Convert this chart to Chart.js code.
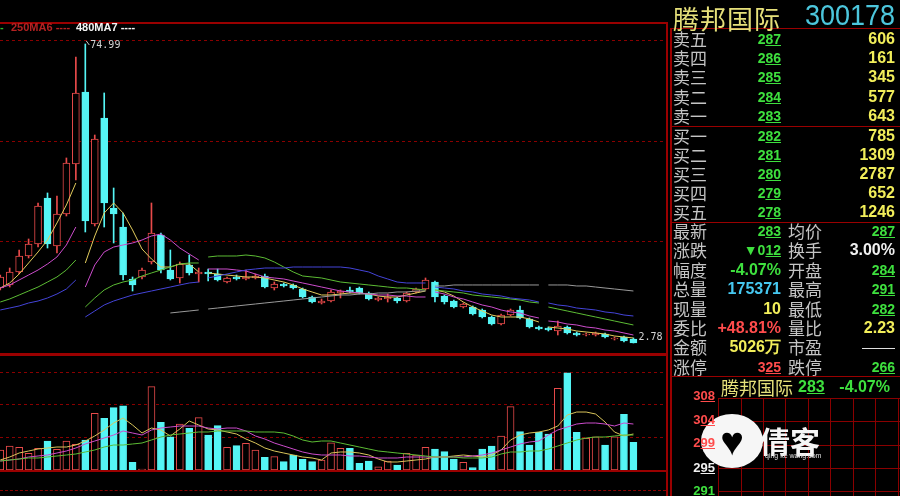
<!DOCTYPE html>
<html lang="zh">
<head>
<meta charset="utf-8">
<title>腾邦国际 300178</title>
<script src="https://cdn.jsdelivr.net/npm/chart.js@4.4.1/dist/chart.umd.min.js"></script>
<style>
  html, body { margin: 0; padding: 0; background: #000; }
  body { position: relative; width: 900px; height: 496px; overflow: hidden; font-family: "Liberation Sans", Arial, sans-serif; }
  canvas { position: absolute; left: 0; }
  #priceCanvas { top: 0; }
  #volCanvas { top: 356px; }
  .line { position: absolute; background: #9a0000; }
  .dash { position: absolute; height: 0; border-top: 1px dashed #8a0000; }
  .t { position: absolute; white-space: nowrap; height: 20px; line-height: 20px; }
  .lab { font-family: "Noto Sans CJK SC", sans-serif; font-size: 17px; color: #c4c4c4; }
  .num { font-weight: bold; font-size: 16px; }
  .prc { font-weight: bold; font-size: 14px; }
  .mini { font-weight: bold; font-size: 13px; }
  u { text-decoration: underline; text-underline-offset: 1px; }
  .g { color: #3ee03e; } .y { color: #f2ee5a; } .w { color: #f0f0f0; } .c { color: #46c8f0; } .red { color: #ff4c4c; }
</style>
</head>
<body>
<canvas id="priceCanvas" width="668" height="356"></canvas>
<canvas id="volCanvas" width="668" height="114"></canvas>

<!-- chart frame -->
<div class="line" style="left:0;top:22px;width:668px;height:2px"></div>
<div class="line" style="left:0;top:353px;width:668px;height:3px"></div>
<div class="line" style="left:666px;top:22px;width:2px;height:474px"></div>
<div class="line" style="left:0;top:470px;width:668px;height:2px"></div>
<div class="dash" style="left:0;top:490px;width:666px"></div>

<!-- legend leftovers -->
<div class="t" style="left:0;top:21px;font:bold 11px 'Liberation Sans';color:#2cb82c">-</div>
<div class="t" style="left:11px;top:21px;font:bold 11px 'Liberation Sans';color:#b42222">250MA6 ----</div>
<div class="t" style="left:76px;top:21px;font:bold 11px 'Liberation Sans';color:#f4f4f4">480MA7 ----</div>

<!-- quote panel frame -->
<div class="line" style="left:670px;top:28px;width:230px;height:1px"></div>
<div class="line" style="left:670px;top:28px;width:2px;height:468px"></div>
<div class="line" style="left:670px;top:126px;width:230px;height:1px"></div>
<div class="line" style="left:670px;top:222px;width:230px;height:1px"></div>
<div class="line" style="left:670px;top:376px;width:230px;height:1px"></div>

<div class="t" style="left:673px;top:-1px;height:28px;line-height:28px;font:26px 'Noto Sans CJK SC';letter-spacing:1px;color:#e6e07a">腾邦国际</div>
<div class="t" style="right:5px;top:-2px;height:30px;line-height:30px;font:30px 'Liberation Sans';color:#4cc6dc;transform:scaleX(0.9);transform-origin:right center">300178</div>

<!-- mini chart grid + watermark -->
<div style="position:absolute;left:718px;top:398px;width:182px;height:98px;background-image:repeating-linear-gradient(to right,#8a0000 0 1px,transparent 1px 22.5px),repeating-linear-gradient(to bottom,#8a0000 0 1px,transparent 1px 23.3px)"></div>
<div style="position:absolute;left:701px;top:414px;width:62px;height:54px;border-radius:50%;background:#f6f6f6;text-align:center;line-height:54px;font-size:40px;color:#000">&#9829;</div>
<div class="t" style="left:760px;top:418px;height:36px;line-height:36px;font:bold 30px 'Noto Sans CJK SC';color:#f6f6f6">倩客</div>
<div class="t" style="left:765px;top:452px;height:10px;line-height:10px;font:7px 'Liberation Sans';color:#e0e0e0">qing ke wang.com</div>

<div id="overlay"></div>

<script>
// candles (price units, 2.78 .. 74.99)
const opens  = [16.06, 16.79, 19.93, 23.79, 26.69, 37.80, 26.21, 33.93, 46.01, 63.40,
                31.52, 57.12, 35.38, 30.79, 18.24, 18.72, 22.34, 28.86, 20.41, 18.48,
                21.62, 19.44, 19.93, 19.44, 17.51, 18.72, 18.24, 18.48, 18.96, 16.06,
                17.03, 16.79, 15.82, 13.89, 12.44, 12.92, 14.86, 15.58, 16.06, 14.86,
                13.16, 13.41, 13.65, 12.92, 15.10, 15.82, 17.51, 14.13, 12.92, 11.47,
                11.47, 10.75, 9.06, 7.37, 9.54, 10.75, 8.58, 6.64, 6.40, 5.68,
                6.64, 5.20, 4.71, 4.71, 4.95, 3.75, 4.23, 3.75];
const highs  = [19.20, 20.89, 25.24, 27.90, 36.59, 39.01, 38.28, 47.46, 71.85, 74.99,
                53.01, 63.16, 40.21, 34.18, 18.72, 20.89, 36.59, 29.35, 25.24, 22.34,
                24.03, 20.89, 20.65, 20.65, 18.72, 19.20, 20.41, 19.44, 19.44, 17.51,
                17.27, 17.03, 16.06, 14.13, 13.41, 15.58, 15.58, 16.30, 16.30, 15.10,
                13.89, 14.61, 13.89, 15.10, 16.06, 18.48, 17.75, 14.37, 13.16, 12.44,
                11.72, 10.99, 9.30, 9.78, 10.99, 11.72, 8.82, 6.89, 6.64, 8.09,
                6.89, 5.44, 5.20, 5.44, 5.20, 4.23, 4.47, 3.99];
const lows   = [15.58, 16.30, 19.44, 23.31, 25.96, 25.72, 24.52, 33.45, 42.14, 29.59,
                31.04, 30.79, 26.93, 17.99, 15.34, 18.24, 21.86, 19.69, 17.99, 17.27,
                19.20, 17.51, 17.75, 17.75, 17.27, 17.99, 17.99, 18.24, 16.06, 15.58,
                16.30, 15.82, 13.65, 12.44, 12.20, 12.68, 13.65, 14.86, 14.61, 13.16,
                12.92, 12.68, 12.44, 12.68, 14.86, 15.58, 12.68, 12.20, 11.23, 11.23,
                9.54, 8.82, 7.13, 7.13, 9.30, 8.58, 6.40, 5.92, 5.68, 4.71,
                4.95, 4.47, 4.47, 4.47, 3.99, 3.50, 3.02, 2.78];
const closes = [18.72, 19.93, 23.79, 26.69, 35.87, 26.69, 33.93, 46.25, 63.16, 32.24,
                52.05, 36.59, 33.93, 19.20, 16.79, 20.41, 29.35, 20.41, 18.24, 21.86,
                19.69, 19.93, 19.44, 17.99, 18.48, 18.24, 18.72, 18.96, 16.30, 17.03,
                16.55, 16.06, 13.89, 12.68, 12.92, 15.10, 15.34, 15.10, 14.86, 13.41,
                13.65, 13.89, 12.92, 14.86, 15.82, 17.99, 13.89, 12.68, 11.47, 12.20,
                9.78, 9.06, 7.37, 9.54, 10.75, 8.82, 6.64, 6.16, 5.92, 6.89,
                5.20, 4.71, 4.95, 5.20, 4.23, 3.99, 3.26, 2.78];

// moving average lines (each breaks after the indices in maBreaks)
const ma5  = [16.06, 17.27, 19.44, 22.10, 24.76, 27.65, 31.76, 36.11, 41.42,
              22.10, 28.62, 34.18, 36.59, 34.18, 30.07, 25.48, 23.07, 21.13, 21.13, 21.86, 21.86, 19.93,
              19.69, 19.44, 19.20, 18.96, 18.72, 18.72, 18.48, 17.99, 17.51, 16.79,
              15.82, 15.10, 14.37, 14.37, 14.61, 14.86, 14.86, 14.61, 14.13, 13.89,
              13.89, 14.37, 14.86, 15.34,
              15.58, 15.10, 14.13, 12.68, 11.47, 10.51, 9.54, 9.06, 9.06, 9.06, 8.58, 7.85,
              6.64, 6.40, 6.16, 5.68, 5.44, 5.20, 4.95, 4.47, 4.23, 3.99];
const ma10 = [16.06, 16.79, 17.99, 19.20, 20.41, 21.86, 23.55, 26.45, 30.79,
              16.30, 21.62, 24.76, 25.96, 26.45, 26.93, 27.65, 28.62, 29.10, 27.65, 25.72, 24.27, 22.82,
              20.65, 20.65, 20.65, 20.41, 20.17, 19.44, 18.72, 18.48, 18.24, 17.75,
              17.27, 16.79, 16.30, 15.82, 15.34, 15.10, 14.86, 14.61, 14.37, 14.37,
              14.13, 14.13, 13.89, 13.89,
              15.10, 14.61, 13.89, 13.41, 12.68, 11.96, 11.47, 10.75, 10.27, 10.03, 9.30, 8.82,
              8.09, 7.85, 7.37, 7.13, 6.64, 6.40, 5.92, 5.68, 5.20, 4.71];
const ma20 = [12.68, 13.41, 14.37, 15.34, 16.30, 17.51, 18.72, 20.41, 22.82,
              11.47, 13.65, 15.58, 16.79, 17.51, 17.99, 18.96, 19.69, 20.41, 21.13, 21.86, 22.10, 22.10,
              23.55, 23.79, 23.79, 23.79, 24.03, 23.79, 23.31, 22.34, 21.13, 19.93,
              18.96, 18.72, 18.48, 17.99, 17.51, 17.27, 17.03, 16.79, 16.55, 16.30,
              16.06, 16.06, 15.82, 15.58,
              15.58, 15.34, 15.10, 14.86, 14.37, 14.13, 13.89, 13.65, 13.41, 13.16, 12.68, 12.44,
              11.47, 10.99, 10.51, 10.03, 9.54, 9.06, 8.58, 8.09, 7.61, 7.13];
const ma30 = [10.75, 11.23, 11.72, 12.44, 12.92, 13.65, 14.61, 15.82, 17.99,
              9.06, 10.51, 11.96, 12.92, 13.65, 14.37, 14.86, 15.34, 15.82, 16.30, 16.79, 17.27, 17.51,
              18.48, 18.96, 19.44, 19.93, 20.41, 20.65, 20.89, 20.89, 20.89, 21.13,
              21.13, 21.13, 21.13, 21.13, 21.13, 20.89, 20.41, 19.93, 18.96, 18.24,
              17.51, 17.27, 17.27, 17.27,
              16.30, 16.06, 15.82, 15.34, 15.10, 14.61, 14.37, 14.13, 13.65, 13.41, 13.16, 12.68,
              12.44, 11.96, 11.72, 11.23, 10.99, 10.75, 10.27, 10.03, 9.54, 9.30];
const ma60 = [null, null, null, null, null, null, null, null, null,
              null, null, null, null, null, null, null, null, null, 10.03, 10.27, 10.51, 10.75,
              10.99, 11.23, 11.47, 11.72, 11.96, 12.20, 12.44, 12.68, 12.92, 13.16,
              13.41, 13.65, 13.89, 14.13, 14.37, 14.37, 14.61, 14.61, 14.86, 14.86,
              15.10, 15.10, 15.34, 15.34,
              16.55, 16.55, 16.79, 16.79, 16.79, 16.79, 16.79, 16.79, 16.79, 16.79, 16.79, 16.79,
              16.79, 16.79, 16.79, 16.55, 16.55, 16.30, 16.06, 15.82, 15.58, 15.34];
const maBreaks = [8, 21, 45, 57];

// volume panel
const volumes = [6.10, 7.32, 6.91, 5.08, 6.61, 8.84, 6.30, 8.84, 7.83, 9.15,
                 17.28, 15.76, 19.0, 19.6, 2.35, 0.3, 25.4, 14.54, 10.15, 14.02,
                 12.71, 15.95, 10.67, 13.51, 6.91, 7.41, 8.14, 6.10, 3.87, 4.06,
                 2.53, 4.57, 3.26, 2.53, 3.05, 8.3, 6.61, 6.61, 2.04, 2.74,
                 1.0, 2.74, 1.52, 5.08, 4.57, 6.91, 6.40, 5.58, 3.35, 2.35,
                 0.70, 6.40, 7.32, 10.37, 19.30, 11.68, 7.62, 11.49, 10.98, 24.9,
                 29.66, 11.49, 9.66, 10.15, 7.62, 10.15, 16.98, 8.44];
const volMa5  = [3.05, 3.96, 5.18, 5.79, 6.40, 6.71, 7.01, 7.01, 7.62, 8.84,
                 10.37, 12.20, 14.33, 15.85, 13.72, 11.28, 12.80, 12.20, 10.37, 12.50,
                 14.94, 13.72, 12.50, 12.20, 11.59, 10.98, 9.45, 8.23, 6.71, 5.79,
                 5.18, 4.57, 3.96, 3.66, 3.05, 5.18, 5.49, 5.49, 5.18, 4.57,
                 3.35, 2.44, 2.44, 2.74, 3.05, 3.35, 3.96, 3.96, 4.27, 4.57,
                 4.27, 3.96, 4.57, 6.10, 9.15, 10.67, 11.28, 11.59, 12.20, 13.41,
                 16.77, 17.68, 17.68, 17.07, 14.63, 11.59, 10.37, 10.98];
const volMa10 = [2.74, 3.05, 3.35, 3.96, 4.27, 4.57, 5.18, 5.79, 6.71, 7.93,
                 8.84, 9.76, 10.67, 11.89, 11.28, 10.67, 12.20, 12.80, 13.11, 13.41,
                 13.41, 13.41, 12.80, 12.50, 12.80, 12.80, 11.89, 10.37, 9.45, 8.23,
                 7.32, 6.40, 5.49, 4.88, 4.57, 4.57, 4.57, 4.27, 4.27, 3.96,
                 3.66, 3.66, 3.66, 3.96, 3.96, 3.96, 3.96, 3.96, 3.96, 3.96,
                 4.27, 4.57, 5.18, 6.10, 7.01, 7.93, 8.54, 8.84, 10.67, 12.20,
                 13.11, 14.02, 14.33, 14.33, 14.02, 13.41, 14.33, 14.02];
const volMa20 = [2.74, 3.05, 3.35, 3.66, 3.66, 3.96, 4.27, 4.57, 4.88, 5.49,
                 6.10, 7.01, 7.62, 7.62, 7.93, 8.23, 9.15, 10.06, 10.67, 10.98,
                 11.28, 11.59, 11.59, 11.89, 11.89, 11.89, 11.89, 11.59, 11.59, 11.59,
                 11.28, 10.37, 9.15, 8.54, 8.84, 8.84, 8.23, 7.62, 7.01, 6.40,
                 5.79, 5.49, 5.18, 4.88, 4.57, 4.27, 3.96, 3.96, 3.96, 3.66,
                 3.66, 3.66, 3.96, 4.88, 5.49, 5.49, 5.79, 5.79, 6.40, 7.32,
                 8.23, 9.15, 9.76, 10.06, 10.06, 10.37, 10.67, 10.67];

const priceGridLevels = [27.41, 51.64, 75.95];
const volGridLevels = [10, 20, 30];

// quote panel texts
const askLabels = ['卖五', '卖四', '卖三', '卖二', '卖一'];
const askPrices = ['287', '286', '285', '284', '283'];
const askVols   = ['606', '161', '345', '577', '643'];
const bidLabels = ['买一', '买二', '买三', '买四', '买五'];
const bidPrices = ['282', '281', '280', '279', '278'];
const bidVols   = ['785', '1309', '2787', '652', '1246'];
// label, value, colour class, decimal underline
const statLeft = [
    ['最新', '283', 'g', true], ['涨跌', '▼012', 'g', true], ['幅度', '-4.07%', 'g', false],
    ['总量', '175371', 'c', false], ['现量', '10', 'y', false], ['委比', '+48.81%', 'red', false],
    ['金额', '5026万', 'y', false], ['涨停', '325', 'red', true]
];
const statRight = [
    ['均价', '287', 'g', true], ['换手', '3.00%', 'w', false], ['开盘', '284', 'g', true],
    ['最高', '291', 'g', true], ['最低', '282', 'g', true], ['量比', '2.23', 'y', false],
    ['市盈', '', 'w', false], ['跌停', '266', 'g', true]
];
const miniLabels = ['308', '304', '299', '295', '291'];
const miniColors = ['red', 'red', 'red', 'w', 'g'];

const UP = '#e84a4a';
const DOWN = '#55f5f5';
const idx = closes.map((_, i) => i);
const isUp = idx.map(i => closes[i] >= opens[i]);

// dashed horizontal grid at given values
const gridLines = {
    id: 'gridLines',
    beforeDatasetsDraw(chart, args, opts) {
        const { ctx, chartArea, scales } = chart;
        ctx.save();
        ctx.strokeStyle = opts.color;
        ctx.lineWidth = 1;
        ctx.setLineDash([3, 3]);
        opts.values.forEach(v => {
            const y = Math.round(scales.y.getPixelForValue(v)) + 0.5;
            ctx.beginPath();
            ctx.moveTo(chartArea.left, y);
            ctx.lineTo(chartArea.right, y);
            ctx.stroke();
        });
        ctx.restore();
    }
};

// max / min price labels
const priceMarks = {
    id: 'priceMarks',
    afterDatasetsDraw(chart) {
        const { ctx, scales } = chart;
        const top = highs.indexOf(Math.max(...highs));
        const bottom = lows.lastIndexOf(Math.min(...lows));
        ctx.save();
        ctx.strokeStyle = '#c8c8c8';
        ctx.fillStyle = '#d4d4d4';
        ctx.lineWidth = 1;
        ctx.font = '10px "DejaVu Sans Mono", monospace';

        const xh = scales.x.getPixelForValue(top);
        const yh = scales.y.getPixelForValue(highs[top]);
        ctx.beginPath();
        ctx.moveTo(xh + 1, yh - 3);
        ctx.lineTo(xh + 4, yh + 1);
        ctx.stroke();
        ctx.fillText(highs[top].toFixed(2), xh + 5, yh + 4);

        const xl = scales.x.getPixelForValue(bottom);
        const yl = scales.y.getPixelForValue(lows[bottom]);
        ctx.fillText(lows[bottom].toFixed(2), xl + 5, yl - 3);
        ctx.restore();
    }
};

function maLine(values, color, breaks) {
    return {
        type: 'line',
        data: idx.map(i => ({ x: i, y: values[i] })),
        borderColor: color,
        borderWidth: 1,
        pointRadius: 0,
        tension: 0,
        spanGaps: false,
        segment: breaks ? {
            borderColor: ctx => breaks.includes(ctx.p0DataIndex) ? 'rgba(0,0,0,0)' : undefined
        } : undefined,
        order: 0
    };
}

const xScale = { type: 'linear', display: false, min: -0.0265, max: 70.66, offset: false };

new Chart(document.getElementById('priceCanvas'), {
    type: 'bar',
    data: {
        datasets: [
            maLine(ma60, '#9a9a9a', maBreaks),
            maLine(ma30, '#4444d8', maBreaks),
            maLine(ma20, '#5cbc34', maBreaks),
            maLine(ma10, '#cc4ccc', maBreaks),
            maLine(ma5, '#e2cc5c', maBreaks),
            {
                label: 'body',
                data: idx.map(i => ({ x: i, y: [opens[i], closes[i]] })),
                backgroundColor: idx.map(i => isUp[i] ? '#000' : DOWN),
                borderColor: idx.map(i => isUp[i] ? UP : DOWN),
                borderWidth: 1,
                borderSkipped: false,
                barThickness: 7,
                grouped: false,
                order: 1
            },
            {
                label: 'wick',
                data: idx.map(i => ({ x: i, y: [lows[i], highs[i]] })),
                backgroundColor: idx.map(i => isUp[i] ? UP : DOWN),
                borderWidth: 0,
                barThickness: 1,
                grouped: false,
                order: 2
            }
        ]
    },
    options: {
        responsive: false,
        animation: false,
        devicePixelRatio: 1,
        events: [],
        layout: { padding: 0 },
        plugins: {
            legend: { display: false },
            tooltip: { enabled: false },
            gridLines: { values: priceGridLevels, color: '#8a0000' }
        },
        scales: {
            x: xScale,
            y: { type: 'linear', display: false, min: -0.36, max: 85.61, beginAtZero: false }
        }
    },
    plugins: [gridLines, priceMarks]
});

new Chart(document.getElementById('volCanvas'), {
    type: 'bar',
    data: {
        datasets: [
            maLine(volMa20, '#5cbc34'),
            maLine(volMa10, '#cc4ccc'),
            maLine(volMa5, '#d8c45a'),
            {
                label: 'volume',
                data: idx.map(i => ({ x: i, y: volumes[i] })),
                backgroundColor: idx.map(i => isUp[i] ? '#000' : DOWN),
                borderColor: idx.map(i => isUp[i] ? UP : DOWN),
                borderWidth: 1,
                borderSkipped: false,
                barThickness: 7,
                grouped: false,
                order: 1
            }
        ]
    },
    options: {
        responsive: false,
        animation: false,
        devicePixelRatio: 1,
        events: [],
        layout: { padding: 0 },
        plugins: {
            legend: { display: false },
            tooltip: { enabled: false },
            gridLines: { values: volGridLevels, color: '#8a0000' }
        },
        scales: {
            x: xScale,
            y: { type: 'linear', display: false, min: 0, max: 34.76 }
        }
    },
    plugins: [gridLines]
});

// quote panel
const overlay = document.getElementById('overlay');
const dec = s => s.slice(0, -2) + '<u>' + s.slice(-2) + '</u>';

function addText(html, cls, left, right, centerY) {
    const d = document.createElement('div');
    d.className = 't ' + cls;
    d.innerHTML = html;
    if (left !== null) d.style.left = left + 'px';
    if (right !== null) {
        d.style.right = right + 'px';
        d.style.textAlign = 'right';
    }
    d.style.top = (centerY - 10) + 'px';
    overlay.appendChild(d);
}

askLabels.forEach((lab, k) => {
    const cy = 39 + k * 19.2;
    addText(lab, 'lab', 673, null, cy);
    addText(dec(askPrices[k]), 'prc g', null, 119, cy);
    addText(askVols[k], 'num y', null, 5, cy);
});

bidLabels.forEach((lab, k) => {
    const cy = 136 + k * 19.1;
    addText(lab, 'lab', 673, null, cy);
    addText(dec(bidPrices[k]), 'prc g', null, 119, cy);
    addText(bidVols[k], 'num y', null, 5, cy);
});

statLeft.forEach((row, k) => {
    const cy = 231 + k * 19.4;
    const [lab, val, col, under] = row;
    addText(lab, 'lab', 673, null, cy);
    addText(under ? dec(val) : val, (under ? 'prc ' : 'num ') + col, null, 119, cy);
});

statRight.forEach((row, k) => {
    const cy = 231 + k * 19.4;
    const [lab, val, col, under] = row;
    addText(lab, 'lab', 788, null, cy);
    if (val === '') {
        addText('<span style="display:inline-block;width:33px;border-top:1px solid #e0e0e0;vertical-align:middle"></span>', col, null, 5, cy);
    } else {
        addText(under ? dec(val) : val, (under ? 'prc ' : 'num ') + col, null, 5, cy);
    }
});

// mini chart header and price ticks
addText('腾邦国际', 'lab', 721, null, 387);
overlay.lastChild.style.color = '#e6e07a';
overlay.lastChild.style.fontSize = '18px';
addText(dec('283'), 'num g', 798, null, 387);
addText('-4.07%', 'num g', null, 10, 387);

miniLabels.forEach((lab, k) => {
    const cy = [396, 420, 443, 468, 491][k];
    addText(dec(lab), 'mini ' + miniColors[k], null, 185, cy);
});
</script>
</body>
</html>
